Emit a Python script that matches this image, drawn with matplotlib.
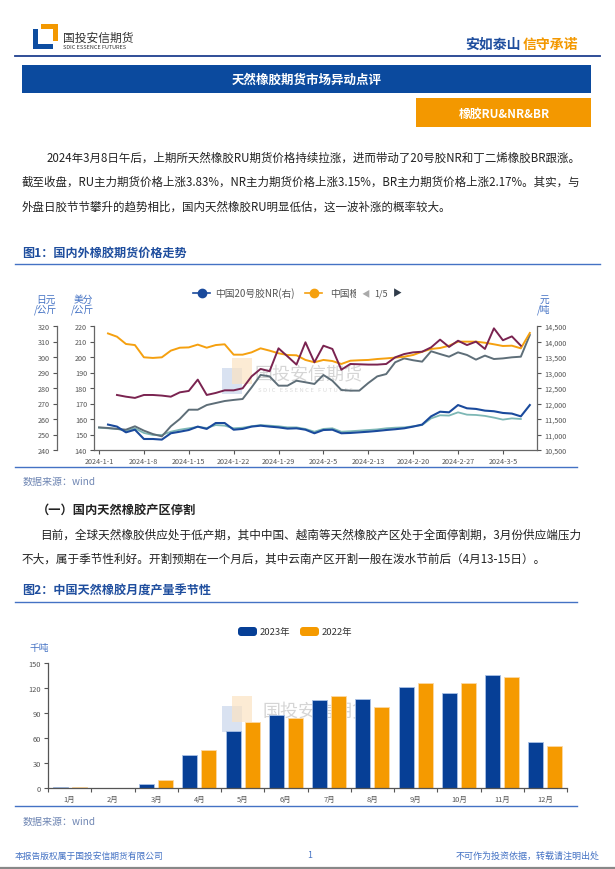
import matplotlib
matplotlib.use('Agg')
import matplotlib.pyplot as plt
import numpy as np
from matplotlib.patches import Rectangle, FancyBboxPatch
from matplotlib.lines import Line2D
from matplotlib.transforms import Bbox, TransformedBbox

plt.rcParams['font.family'] = ['Noto Sans CJK SC', 'DejaVu Sans']
plt.rcParams['axes.unicode_minus'] = False

nan = np.nan

# ── 图1：国内外橡胶期货价格走势 (trading-day index) ──
date_labels = ['2024-1-1', '2024-1-8', '2024-1-15', '2024-1-22', '2024-1-29',
               '2024-2-5', '2024-2-13', '2024-2-20', '2024-2-27', '2024-3-5']

# 元/吨 (right axis)
nr_cn = [nan, 11320, 11255, 11070, 11155, 10855, 10855, 10835, 11040, 11090,
         11145, 11255, 11180, 11370, 11370, 11155, 11180, 11255, 11285, 11255,
         11230, 11190, 11200, 11155, 11040, 11145, 11155, 11040, 11050, 11070,
         11090, 11115, 11145, 11170, 11200, 11255, 11320, 11585, 11735, 11715,
         11950, 11845, 11825, 11770, 11750, 11695, 11675, 11585, 11950]
ru_cn = [nan, 14260, 14155, 13920, 13885, 13490, 13470, 13490, 13705, 13800,
         13810, 13900, 13800, 13885, 13910, 13575, 13575, 13650, 13780, 13705,
         13620, 13565, 13555, 13405, 13330, 13405, 13370, 13275, 13380, 13395,
         13405, 13435, 13455, 13480, 13510, 13565, 13670, 13760, 13790, 13865,
         13995, 13995, 13995, 13960, 13910, 13855, 13865, 13780, 14275]
br_cn = [11230, 11210, 11180, 11155, 11265, 11125, 11015, 10940, 11265, 11500,
         11800, 11800, 11950, 12015, 12080, 12115, 12145, 12520, 12920, 12875,
         12575, 12575, 12735, 12685, 12630, 12920, 12735, 12435, 12415, 12415,
         12660, 12875, 12950, 13330, 13455, 13395, 13350, 13685, 13595, 13510,
         13650, 13565, 13415, 13545, 13435, 13455, 13490, 13510, 14210]
# 日元/公斤
rss_jp = [nan, nan, 275.5, 274.4, 273.6, 275.5, 275.5, 275.1, 274.4, 277.2,
          278.1, 285.4, 275.5, 276.8, 278.5, 278.5, 279.8, 287.5, 292.3, 290.8,
          305.6, 300.4, 295.1, 309.5, 296.6, 307.3, 305.2, 291.8, 295.5, 295.3,
          295.1, 295.1, 295.5, 299.8, 301.9, 303.0, 303.4, 306.2, 311.2, 306.5,
          310.5, 307.7, 309.9, 305.2, 318.5, 310.8, 313.3, 307.3, nan]
# 美分/公斤
tsr_sg = [154.4, 154.0, 153.6, 152.5, 154.0, 151.0, 149.7, 149.7, 151.8, 153.1,
          154.0, 154.9, 154.2, 156.1, 155.7, 154.0, 154.4, 155.3, 156.1, 155.7,
          155.3, 154.6, 154.6, 153.6, 151.8, 153.6, 154.0, 151.8, 152.1, 152.5,
          152.9, 153.3, 154.0, 154.4, 154.6, 155.3, 156.1, 160.4, 162.4, 162.2,
          164.3, 162.8, 162.6, 162.0, 160.9, 159.6, 160.4, 160.0, nan]

# ── 图2：中国天然橡胶月度产量季节性 (千吨) ──
months = ['1月', '2月', '3月', '4月', '5月', '6月', '7月', '8月', '9月', '10月', '11月', '12月']
out_2023 = [1.5, 0, 4.4, 40.0, 68.0, 87.2, 105.6, 106.4, 120.8, 113.6, 136.0, 54.8]
out_2022 = [1.2, 0, 9.2, 45.2, 79.6, 84.4, 110.0, 96.8, 126.4, 125.6, 132.8, 50.4]

# ── colours ─────────────────────────────────────────────────────────
navy = '#0B4A9E'
org = '#F39800'
c_nr, c_ru, c_br, c_jp, c_sg = '#1A4A9C', '#F5A00F', '#5E6E78', '#7A2350', '#7DB7B5'
unit_c = '#4472C4'
tick_c = '#555555'

# ── page in pixel coordinates ───────────────────────────────────────
W, H = 615, 870
fig = plt.figure(figsize=(W / 100, H / 100), dpi=100)
fig.patch.set_facecolor('white')


def fx(x):
    return x / W


def fy(y):
    return 1 - y / H


def txt(x, y, s, **kw):
    kw.setdefault('va', 'center')
    return fig.text(fx(x), fy(y), s, **kw)


def hline(x0, x1, y, color, lw):
    fig.add_artist(Line2D([fx(x0), fx(x1)], [fy(y), fy(y)], color=color, lw=lw,
                          transform=fig.transFigure))


def box(x0, y0, x1, y1, color, **kw):
    r = Rectangle((fx(x0), fy(y1)), (x1 - x0) / W, (y1 - y0) / H, facecolor=color,
                  edgecolor='none', transform=fig.transFigure, **kw)
    fig.add_artist(r)
    return r


renderer = fig.canvas.get_renderer()


def fit(t, width):
    w = t.get_window_extent(renderer).width
    t.set_fontsize(t.get_fontsize() * width / w)
    return t.get_fontsize()


# header: logo + slogan
box(33, 30, 38, 50, '#0D4DA1')
box(33, 45, 53, 50, '#0D4DA1')
box(41, 25, 58, 30, '#F39800')
box(53, 25, 58, 42, '#F39800')
txt(63, 38, '国投安信期货', fontsize=8.5, color='#333333')
txt(63, 47.5, 'SDIC ESSENCE FUTURES', fontsize=4.0, color='#333333')
txt(465, 45, '安如泰山', fontsize=10, fontweight='bold', color='#1F4E9E')
txt(578, 45, '信守承诺', fontsize=10, fontweight='bold', color='#F39800', ha='right')
hline(15, 600, 57, '#1F3F8F', 1.3)

box(22, 66, 591, 94, navy)
txt(307, 80, '天然橡胶期货市场异动点评', fontsize=9, fontweight='bold', color='white', ha='center')
box(416, 99, 591, 128, org)
txt(504, 114, '橡胶RU&NR&BR', fontsize=8.5, fontweight='bold', color='white', ha='center')

# paragraph 1
body_c = '#222222'
t1 = txt(47, 158, '2024年3月8日午后，上期所天然橡胶RU期货价格持续拉涨，进而带动了20号胶NR和丁二烯橡胶BR跟涨。',
         fontsize=8.5, color=body_c)
fs = fit(t1, 532)
t2 = txt(22, 182, '截至收盘，RU主力期货价格上涨3.83%，NR主力期货价格上涨3.15%，BR主力期货价格上涨2.17%。其实，与',
         fontsize=8.5, color=body_c)
fit(t2, 555)
txt(22, 207, '外盘日胶节节攀升的趋势相比，国内天然橡胶RU明显低估，这一波补涨的概率较大。', fontsize=fs, color=body_c)

# figure 1 title
txt(22, 253, '图1：国内外橡胶期货价格走势', fontsize=8.7, fontweight='bold', color='#1F4E9E')
hline(15, 600, 265, unit_c, 1.0)

# ── chart 1 ─────────────────────────────────────────────────────────
idx = np.arange(len(nr_cn))
ax = fig.add_axes([fx(94), fy(451), (537 - 94) / W, (451 - 327) / H])
axr = ax.twinx()
axj = ax.twinx()

ax.plot(idx, tsr_sg, color=c_sg, lw=1.3, zorder=3)
axr.plot(idx, br_cn, color=c_br, lw=1.4)
axr.plot(idx, nr_cn, color=c_nr, lw=1.5)
axr.plot(idx, ru_cn, color=c_ru, lw=1.4)
axj.plot(idx, rss_jp, color=c_jp, lw=1.4)

ax.set_xlim(-0.56, 48.8)
ax.set_ylim(140, 220)
ax.set_yticks(range(140, 221, 10))
axj.set_ylim(240, 320)
axj.set_yticks(range(240, 321, 10))
axr.set_ylim(10500, 14500)
r_ticks = list(range(10500, 14501, 500))
axr.set_yticks(r_ticks)
axr.set_yticklabels([f'{v:,}' for v in r_ticks])
ax.set_xticks(range(0, 49, 5))
ax.set_xticklabels(date_labels)

for a in (ax, axr, axj):
    for s in a.spines.values():
        s.set_visible(False)
        s.set_color('#666666')
        s.set_linewidth(0.9)
    a.tick_params(labelsize=5.2, colors=tick_c, length=3, width=0.8, pad=2)
ax.spines['left'].set_visible(True)
ax.spines['bottom'].set_visible(True)
axr.spines['right'].set_visible(True)
axj.yaxis.tick_left()
axj.spines['left'].set_visible(True)
axj.spines['left'].set_position(('outward', 26.64))

# watermark chart 1
ax.add_patch(Rectangle((fx(222), fy(395)), 20 / W, 26 / H, transform=fig.transFigure,
                       facecolor='#C9D6EC', alpha=0.7, zorder=0))
ax.add_patch(Rectangle((fx(232), fy(385)), 20 / W, 26 / H, transform=fig.transFigure,
                       facecolor='#FBE3C2', alpha=0.7, zorder=0))
ax.text(fx(255), fy(375), '国投安信期货', transform=fig.transFigure, fontsize=13,
        color='#D5D5D5', va='center', zorder=0)
ax.text(fx(258), fy(391), 'S D I C   E S S E N C E   F U T U R E S', transform=fig.transFigure,
        fontsize=4.3, color='#DADADA', va='center', zorder=0)

# legend chart 1
for x0, col in ((193, c_nr), (305, c_ru)):
    fig.add_artist(Line2D([fx(x0), fx(x0 + 17)], [fy(294), fy(294)], color=col, lw=1.2,
                          transform=fig.transFigure))
    fig.add_artist(Line2D([fx(x0 + 8.5)], [fy(294)], marker='o', ms=6, color=col,
                          transform=fig.transFigure))
txt(215, 294, '中国20号胶NR(右)', fontsize=7, color=tick_c)
t_cut = txt(330, 294, '中国橡', fontsize=7, color=tick_c)
t_cut.set_clip_box(TransformedBbox(Bbox.from_extents(0, 0, 356 / W, 1), fig.transFigure))
t_cut.set_clip_on(True)
txt(366, 294, '◀', fontsize=6, color='#AAAAAA', ha='center')
txt(381, 294, '1/5', fontsize=6.5, color=tick_c, ha='center')
txt(397, 294, '▶', fontsize=6.5, color='#2F3B4A', ha='center')

# axis units
txt(46, 305, '日元\n/公斤', fontsize=7, color=unit_c, ha='center', linespacing=0.95)
txt(83, 305, '美分\n/公斤', fontsize=7, color=unit_c, ha='center', linespacing=0.95)
txt(544, 305, '元\n/吨', fontsize=7, color=unit_c, ha='center', linespacing=0.95)

hline(15, 577, 468, unit_c, 1.0)
txt(23, 482, '数据来源：wind', fontsize=7.2, color='#6F86B3', style='italic')

# section 2 text
txt(37, 510, '（一）国内天然橡胶产区停割', fontsize=8.8, fontweight='bold', color='#222222')
p1 = txt(40, 535, '目前，全球天然橡胶供应处于低产期，其中中国、越南等天然橡胶产区处于全面停割期，3月份供应端压力',
         fontsize=8.5, color=body_c)
fs2 = fit(p1, 538)
txt(22, 559, '不大，属于季节性利好。开割预期在一个月后，其中云南产区开割一般在泼水节前后（4月13-15日）。',
    fontsize=fs2, color=body_c)

txt(22, 591, '图2：中国天然橡胶月度产量季节性', fontsize=8.7, fontweight='bold', color='#1F4E9E')
hline(15, 577, 603, unit_c, 1.0)

# ── chart 2 ─────────────────────────────────────────────────────────
ax2 = fig.add_axes([fx(48), fy(789), (567 - 48) / W, (789 - 664) / H])
xm = np.arange(len(months))
ax2.bar(xm - 0.22, out_2023, width=0.35, color='#063F96', edgecolor='#A9C1E6', linewidth=0.6, zorder=2)
ax2.bar(xm + 0.22, out_2022, width=0.35, color='#F59A00', edgecolor='#FCD9A3', linewidth=0.6, zorder=2)
ax2.set_xlim(-0.5, 11.5)
ax2.set_ylim(0, 150)
ax2.set_yticks(range(0, 151, 30))
ax2.set_xticks(xm)
ax2.set_xticklabels(months)
ax2.set_xticks(np.arange(-0.5, 12, 1), minor=True)
ax2.tick_params(axis='x', which='major', length=0, pad=5)
ax2.tick_params(axis='x', which='minor', length=3, width=0.8, color='#555555')
ax2.tick_params(axis='y', length=3, width=0.8, color='#555555', pad=2)
ax2.tick_params(labelsize=5.4, labelcolor=tick_c)
for k in ('top', 'right'):
    ax2.spines[k].set_visible(False)
for k in ('left', 'bottom'):
    ax2.spines[k].set_color('#555555')
    ax2.spines[k].set_linewidth(0.9)

# watermark chart 2
ax2.add_patch(Rectangle((fx(222), fy(733)), 20 / W, 26 / H, transform=fig.transFigure,
                        facecolor='#C9D6EC', alpha=0.7, zorder=0))
ax2.add_patch(Rectangle((fx(232), fy(723)), 20 / W, 26 / H, transform=fig.transFigure,
                        facecolor='#FBE3C2', alpha=0.7, zorder=0))
ax2.text(fx(263), fy(712), '国投安信期货', transform=fig.transFigure, fontsize=13,
         color='#D5D5D5', va='center', zorder=0)

# legend chart 2
for x0, col, lab in ((238, '#063F96', '2023年'), (300, '#F59A00', '2022年')):
    fig.add_artist(FancyBboxPatch((fx(x0), fy(637)), 19 / W, 9 / H,
                                  boxstyle='round,pad=0,rounding_size=0.005', mutation_aspect=W / H,
                                  facecolor=col, edgecolor='none', transform=fig.transFigure))
    txt(x0 + 22, 632, lab, fontsize=6.8, color='#333333')
txt(29, 648, '千吨', fontsize=7, color=unit_c)

hline(15, 577, 807, unit_c, 1.0)
txt(23, 822, '数据来源：wind', fontsize=7.2, color='#6F86B3', style='italic')

# footer
txt(15, 856, '本报告版权属于国投安信期货有限公司', fontsize=6.3, color=unit_c)
txt(310, 856, '1', fontsize=6.3, color=unit_c, ha='center')
txt(600, 856, '不可作为投资依据，转载请注明出处', fontsize=6.5, color=unit_c, ha='right')
hline(0, 615, 869, '#888888', 1.6)

fig.savefig('out.png', dpi=100)
print('Saved out.png')
